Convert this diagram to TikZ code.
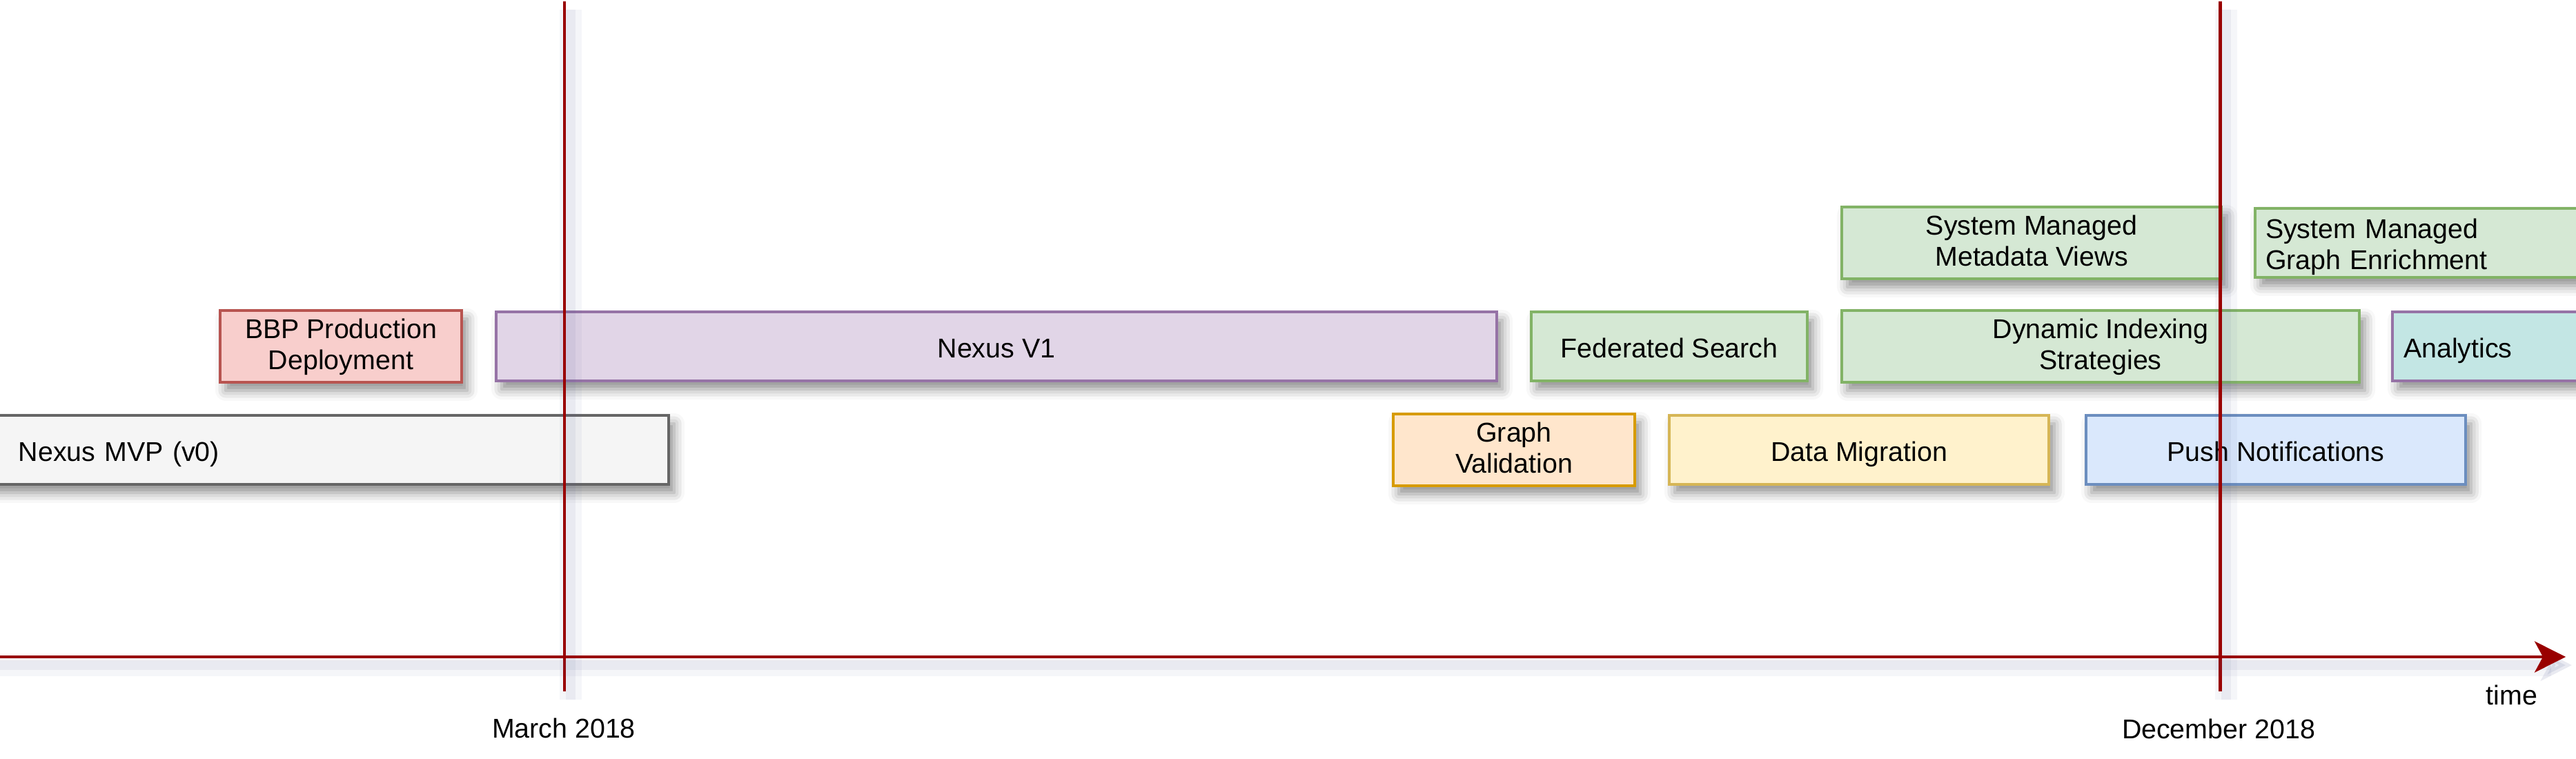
\documentclass[tikz,border=0pt]{standalone}
\usepackage{fontspec}
\setmainfont{Liberation Sans}
\usepackage{tikz}
\usetikzlibrary{arrows.meta,shadows.blur}
\definecolor{mvpfill}{HTML}{F5F5F5}\definecolor{mvpline}{HTML}{666666}
\definecolor{redfill}{HTML}{F8CECC}\definecolor{redline}{HTML}{B85450}
\definecolor{purfill}{HTML}{E1D5E7}\definecolor{purline}{HTML}{9673A6}
\definecolor{grnfill}{HTML}{D5E8D4}\definecolor{grnline}{HTML}{82B366}
\definecolor{orgfill}{HTML}{FFE6CC}\definecolor{orgline}{HTML}{D79B00}
\definecolor{yelfill}{HTML}{FFF2CC}\definecolor{yelline}{HTML}{D6B656}
\definecolor{blufill}{HTML}{DAE8FC}\definecolor{bluline}{HTML}{6C8EBF}
\definecolor{tealfill}{HTML}{C3E6E4}
\definecolor{timered}{HTML}{990000}
\definecolor{shadowcol}{HTML}{5A6496}

\begin{document}
\begin{tikzpicture}[
    txt/.style={font=\fontsize{11.2}{12.8}\selectfont},
    task/.style={txt, draw, line width=1.3pt, minimum height=1cm, align=center,
                 text height=1.1em, text depth=0.18em,
                 blur shadow={shadow xshift=0.08cm, shadow yshift=-0.12cm,
                              shadow blur radius=0.15cm, shadow opacity=45, fill=shadowcol}},
    twoline/.style={text height=2.1em, text depth=0.188em},
    marker/.style={draw=timered, line width=1.4pt,
                   preaction={draw=shadowcol, opacity=0.06, line width=9pt,
                              transform canvas={shift={(0.09,-0.12)}}},
                   preaction={draw=shadowcol, opacity=0.08, line width=4pt,
                              transform canvas={shift={(0.09,-0.12)}}}},
  ]
\useasboundingbox (0,0) rectangle (37.33,11);

%---------------- bottom row -----------------
\node[task, fill=mvpfill, draw=mvpline, minimum width=9.89cm, text width=8.95cm, align=left]
      (mvp) at (4.745,4.48) {Nexus MVP (v0)};
\node[task, twoline, fill=orgfill, draw=orgline, minimum width=3.5cm] (graphval) at (21.94,4.48) {Graph\\Validation};
\node[task, fill=yelfill, draw=yelline, minimum width=5.5cm] (datamig) at (26.94,4.48) {Data Migration};
\node[task, fill=blufill, draw=bluline, minimum width=5.5cm] (pushnotif) at (32.98,4.48) {Push Notifications};

%---------------- middle row -----------------
\node[task, twoline, fill=redfill, draw=redline, minimum width=3.5cm] (bbp) at (4.94,5.98) {BBP Production\\Deployment};
\node[task, fill=purfill, draw=purline, minimum width=14.5cm] (nexusv1) at (14.44,5.98) {Nexus V1};
\node[task, fill=grnfill, draw=grnline, minimum width=4.0cm] (fedsearch) at (24.19,5.98) {Federated Search};
\node[task, twoline, fill=grnfill, draw=grnline, minimum width=7.5cm] (dynindex) at (30.44,5.98) {Dynamic Indexing\\Strategies};
\node[task, fill=tealfill, draw=purline, minimum width=2.93cm, text width=2.61cm, align=left]
      (analytics) at (36.135,5.98) {Analytics};

%---------------- top row -----------------
\node[task, twoline, fill=grnfill, draw=grnline, minimum width=5.5cm] (smviews) at (29.44,7.48) {System Managed\\Metadata Views};
\node[task, fill=grnfill, draw=grnline, minimum width=4.92cm, text width=4.62cm, align=left,
      text height=0.75em, text depth=1.122em]
      (smgraph) at (35.14,7.48) {System Managed\\Graph Enrichment};

%---------------- time axis and milestones -----------------
\coordinate (t0) at (-0.2,1.48);
\coordinate (t1) at (37.18,1.48);
\coordinate (marTop) at (8.18,10.98);
\coordinate (marBot) at (8.18,0.98);
\coordinate (decTop) at (32.17,10.98);
\coordinate (decBot) at (32.17,0.98);
\draw[marker] (marTop) -- (marBot);
\draw[marker] (decTop) -- (decBot);
\draw[marker, -{Stealth[length=4.5mm, width=4.5mm, inset=1.2mm]}] (t0) -- (t1);
\node[txt] (march) at (8.17,0.45) {March 2018};
\node[txt] (december) at (32.15,0.44) {December 2018};
\node[txt] (time) at (36.40,0.93) {time};

\end{tikzpicture}
\end{document}
